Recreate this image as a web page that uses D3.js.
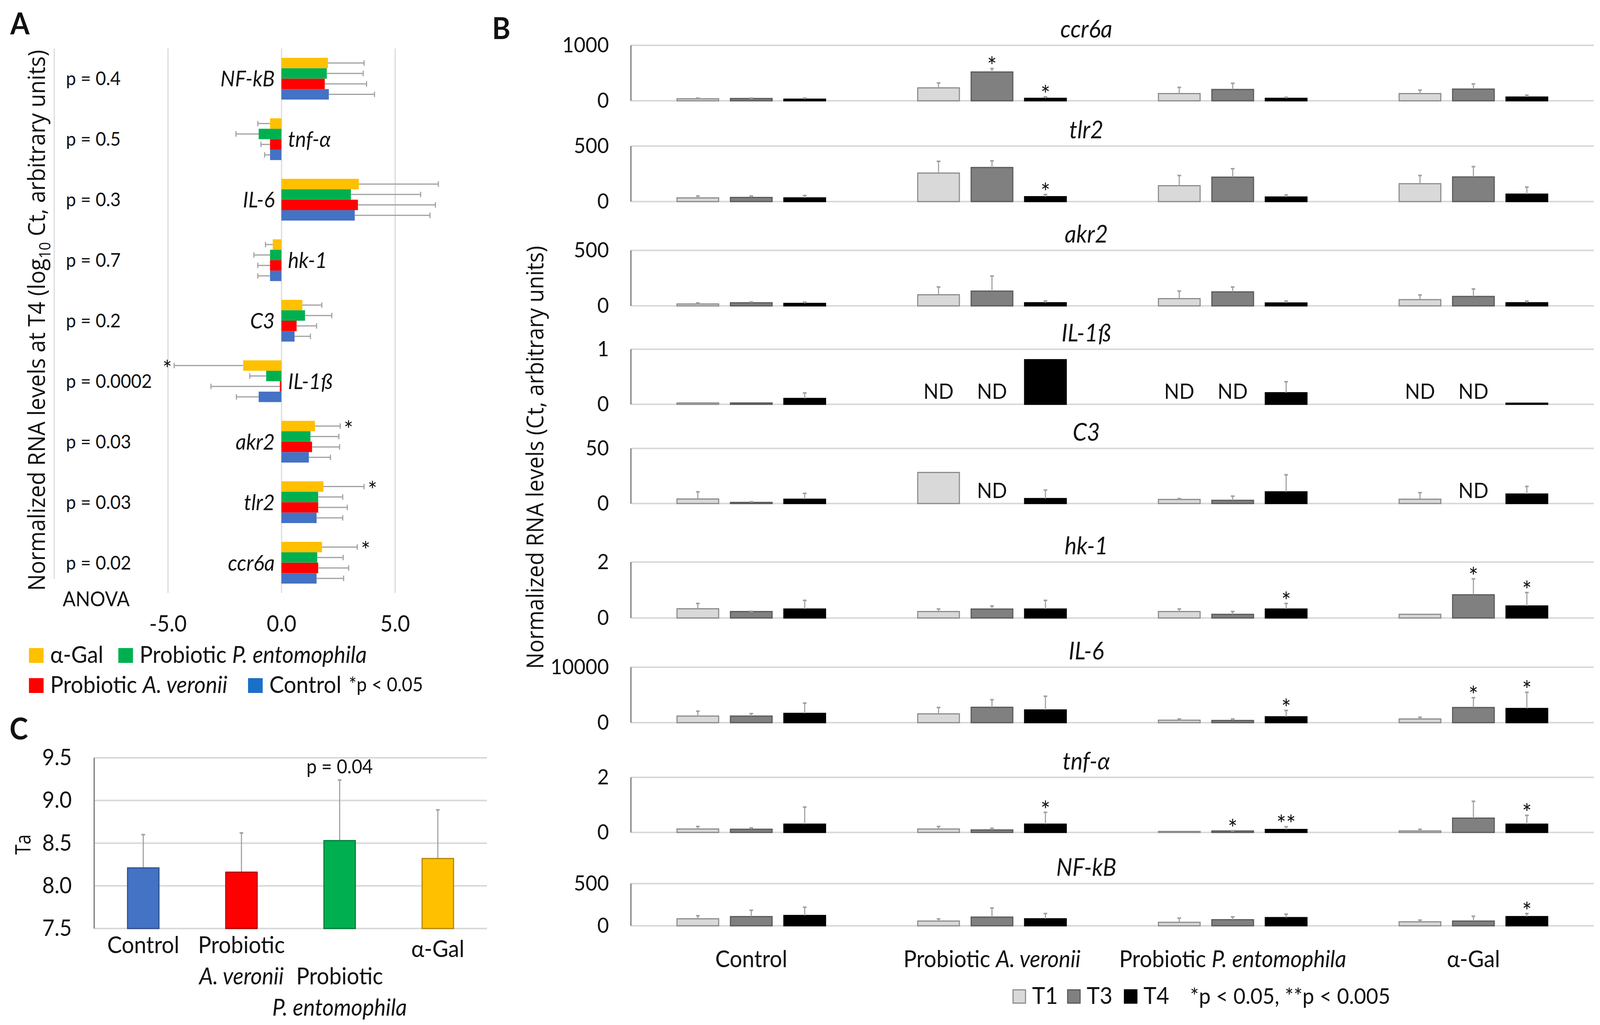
<!DOCTYPE html>
<html>
<head>
<meta charset="utf-8" />
<script src="https://cdn.jsdelivr.net/npm/d3@7"></script>
<style>
  html, body { margin: 0; padding: 0; overflow: hidden; background: #fff; }
  svg { display: block; }
  text { font-family: Lato, "Open Sans", sans-serif; fill: #111; }
  .title { font-family: "Open Sans", sans-serif; }
</style>
</head>
<body>
<script>
// ---------- data : panel A (log10 Ct at T4) ----------
var genesA = ["NF-kB", "tnf-α", "IL-6", "hk-1", "C3", "IL-1ß", "akr2", "tlr2", "ccr6a"];
var pvalsA = ["p = 0.4", "p = 0.5", "p = 0.3", "p = 0.7", "p = 0.2", "p = 0.0002", "p = 0.03", "p = 0.03", "p = 0.02"];
var seriesA = ["α-Gal", "Probiotic P. entomophila", "Probiotic A. veronii", "Control"];
var colorsA = ["#FFC000", "#00B050", "#FF0000", "#4472C4"];
var galA = [2.05, -0.5, 3.41, -0.38, 0.92, -1.68, 1.48, 1.85, 1.79];
var galErrA = [1.59, 0.54, 3.5, 0.32, 0.86, 3.04, 1.11, 1.79, 1.55];
var pentA = [2.0, -1.0, 3.06, -0.5, 1.04, -0.67, 1.28, 1.62, 1.58];
var pentErrA = [1.6, 1.0, 3.07, 0.71, 1.18, 0.72, 1.25, 1.08, 1.14];
var averA = [1.91, -0.5, 3.37, -0.5, 0.67, -0.07, 1.35, 1.62, 1.62];
var averErrA = [1.84, 0.4, 3.41, 0.54, 0.88, 3.03, 1.21, 1.28, 1.34];
var ctrlA = [2.09, -0.5, 3.23, -0.5, 0.58, -1.0, 1.21, 1.55, 1.55];
var ctrlErrA = [2.01, 0.24, 3.31, 0.54, 0.7, 0.98, 0.95, 1.15, 1.19];
var starsA = ["IL-1ß", "akr2", "tlr2", "ccr6a"]; // α-Gal, *p < 0.05
var ticksA = [-5, 0, 5];

// ---------- data : panel B (Ct, by time point) ----------
var groupsB = ["Control", "Probiotic A. veronii", "Probiotic P. entomophila", "α-Gal"];
var timesB = ["T1", "T3", "T4"];
var timeFill = ["#d9d9d9", "#808080", "#000000"];
var timeStroke = ["#8c8c8c", "#595959", "#000000"];
var genesB = ["ccr6a", "tlr2", "akr2", "IL-1ß", "C3", "hk-1", "IL-6", "tnf-α", "NF-kB"];
var yMaxB = [1000, 500, 500, 1, 50, 2, 10000, 2, 500];
// per gene: Control T1,T3,T4 | A. veronii T1,T3,T4 | P. entomophila T1,T3,T4 | α-Gal T1,T3,T4  (null = ND)
var ccr6aB = [36, 41, 29, 233, 519, 44, 130, 204, 44, 130, 211, 67];
var ccr6aErrB = [12, 7, 19, 89, 62, 26, 111, 111, 19, 63, 93, 33];
var tlr2B = [33, 37, 33, 257, 307, 44, 143, 220, 41, 161, 222, 67];
var tlr2ErrB = [17, 13, 21, 106, 60, 19, 92, 76, 18, 74, 93, 63];
var akr2B = [17, 28, 22, 100, 133, 28, 65, 126, 26, 56, 85, 28];
var akr2ErrB = [9, 7, 11, 70, 136, 16, 68, 44, 17, 42, 67, 15];
var il1bB = [0.024, 0.024, 0.106, null, null, 0.81, null, null, 0.21, null, null, 0.02];
var il1bErrB = [0, 0, 0.1, 0, 0, 0, 0, 0, 0.2, 0, 0, 0];
var c3B = [4.1, 1.0, 3.9, 28.2, null, 4.5, 3.7, 2.9, 10.6, 3.9, null, 8.6];
var c3ErrB = [6.5, 0.6, 5.3, 0, 0, 7.7, 0.8, 3.8, 15.5, 5.9, 0, 6.9];
var hk1B = [0.33, 0.23, 0.32, 0.23, 0.32, 0.32, 0.23, 0.13, 0.32, 0.13, 0.83, 0.43];
var hk1ErrB = [0.19, 0.01, 0.31, 0.09, 0.11, 0.31, 0.09, 0.1, 0.2, 0, 0.57, 0.48];
var il6B = [1189, 1189, 1674, 1586, 2775, 2291, 441, 396, 1057, 661, 2731, 2555];
var il6ErrB = [881, 441, 1850, 1145, 1366, 2467, 220, 265, 1146, 308, 1762, 2908];
var tnfB = [0.124, 0.116, 0.3, 0.124, 0.09, 0.3, 0.036, 0.053, 0.107, 0.053, 0.52, 0.3];
var tnfErrB = [0.09, 0.05, 0.62, 0.09, 0.06, 0.43, 0, 0.01, 0.1, 0.06, 0.61, 0.32];
var nfkbB = [83, 109, 122, 56, 103, 83, 41, 72, 97, 47, 56, 109];
var nfkbErrB = [36, 75, 98, 25, 108, 62, 50, 34, 41, 20, 57, 36];
var valuesB = [ccr6aB, tlr2B, akr2B, il1bB, c3B, hk1B, il6B, tnfB, nfkbB];
var errorsB = [ccr6aErrB, tlr2ErrB, akr2ErrB, il1bErrB, c3ErrB, hk1ErrB, il6ErrB, tnfErrB, nfkbErrB];
var starsB = [
  ["", "", "", "", "*", "*", "", "", "", "", "", ""],
  ["", "", "", "", "", "*", "", "", "", "", "", ""],
  ["", "", "", "", "", "", "", "", "", "", "", ""],
  ["", "", "", "", "", "", "", "", "", "", "", ""],
  ["", "", "", "", "", "", "", "", "", "", "", ""],
  ["", "", "", "", "", "", "", "", "*", "", "*", "*"],
  ["", "", "", "", "", "", "", "", "*", "", "*", "*"],
  ["", "", "", "", "", "*", "", "*", "**", "", "", "*"],
  ["", "", "", "", "", "", "", "", "", "", "", "*"]
];

// ---------- data : panel C (Ta) ----------
var groupsC = ["Control", "Probiotic A. veronii", "Probiotic P. entomophila", "α-Gal"];
var valuesC = [8.21, 8.16, 8.53, 8.32];
var errC = [0.39, 0.46, 0.71, 0.57];
var colorsC = ["#4472C4", "#FF0000", "#00B050", "#FFC000"];
var ticksC = [7.5, 8.0, 8.5, 9.0, 9.5];

// ---------- page ----------
var W = 4367, H = 2624;
var grid = "#d9d9d9", errCol = "#a0a0a0";

// the drawing is laid out in a 4367x2624 box and stretched to fill the window
var svg = d3.select("body").append("svg")
  .attr("viewBox", "0 0 " + W + " " + H)
  .attr("preserveAspectRatio", "none")
  .style("width", "100vw").style("height", "100vh")
  .style("background", "#fff");

// italic species names inside labels
function rich(sel, s) {
  s.split(/(A\. veronii|P\. entomophila)/).forEach(function (part) {
    if (!part) return;
    var t = sel.append("tspan").text(part);
    if (/veronii|entomophila/.test(part)) t.style("font-style", "italic");
  });
}

function panelLetter(x, y, s) {
  svg.append("text").attr("x", x).attr("y", y).text(s)
    .style("font-size", "76px").style("font-weight", "bold");
}
panelLetter(28, 88, "A");
panelLetter(1343, 100, "B");
panelLetter(26, 1893, "C");

// ================= panel A =================
var gA = svg.append("g");
var xA = d3.scaleLinear().domain([-10, 10]).range([148, 1388]);
var yA = d3.scaleBand().domain(genesA).range([124, 1518]).paddingInner(0.31).paddingOuter(0.155);
var ySubA = d3.scaleBand().domain(seriesA).range([0, yA.bandwidth()]);

gA.append("line").attr("x1", xA(-10)).attr("x2", xA(-10)).attr("y1", 124).attr("y2", 1482)
  .attr("stroke", grid).attr("stroke-width", 3);

var axA = gA.append("g").attr("transform", "translate(0,1518)")
  .call(d3.axisBottom(xA).tickValues(ticksA).tickSize(-(1518 - 124)).tickPadding(58)
    .tickFormat(function (d) { return d.toFixed(1); }));
axA.select(".domain").remove();
axA.selectAll(".tick line").attr("stroke", grid).attr("stroke-width", 3);
axA.selectAll(".tick text").style("font-size", "58px").style("font-family", "Lato").attr("fill", "#111");

var meansA = [galA, pentA, averA, ctrlA];
var errsA = [galErrA, pentErrA, averErrA, ctrlErrA];
seriesA.forEach(function (s, si) {
  genesA.forEach(function (g, gi) {
    var v = meansA[si][gi], e = errsA[si][gi];
    var y0 = yA(g) + ySubA(s), h = ySubA.bandwidth();
    gA.append("rect")
      .attr("x", xA(Math.min(0, v))).attr("y", y0)
      .attr("width", Math.abs(xA(v) - xA(0))).attr("height", h)
      .attr("fill", colorsA[si]);
    var end = v + (v < 0 ? -e : e);
    gA.append("line").attr("x1", xA(v)).attr("x2", xA(end))
      .attr("y1", y0 + h / 2).attr("y2", y0 + h / 2)
      .attr("stroke", errCol).attr("stroke-width", 3);
    gA.append("line").attr("x1", xA(end)).attr("x2", xA(end))
      .attr("y1", y0 + h / 2 - 7).attr("y2", y0 + h / 2 + 7)
      .attr("stroke", errCol).attr("stroke-width", 3);
    if (si === 0 && starsA.indexOf(g) >= 0) {
      gA.append("text").text("*")
        .attr("x", xA(end) + (v < 0 ? -6 : 10)).attr("y", y0 + h / 2 + 30)
        .attr("text-anchor", v < 0 ? "end" : "start")
        .style("font-size", "60px");
    }
  });
});

genesA.forEach(function (g, gi) {
  var neg = ctrlA[gi] + galA[gi] < 0;
  gA.append("text").text(g)
    .attr("x", neg ? xA(0) + 18 : xA(0) - 18)
    .attr("y", yA(g) + yA.bandwidth() / 2 + 20)
    .attr("text-anchor", neg ? "start" : "end")
    .style("font-size", "56px").style("font-style", "italic");
  gA.append("text").text(pvalsA[gi])
    .attr("x", 180).attr("y", yA(g) + yA.bandwidth() / 2 + 17)
    .style("font-size", "49px");
});
gA.append("text").text("ANOVA").attr("x", 171).attr("y", 1552).style("font-size", "52px");

// condensed axis title, as in the original
var tA = gA.append("text").attr("class", "title")
  .attr("transform", "translate(123,820) rotate(-90)")
  .attr("text-anchor", "middle").style("font-size", "64px")
  .attr("textLength", 1385).attr("lengthAdjust", "spacingAndGlyphs");
tA.append("tspan").text("Normalized RNA levels at T4 (log");
tA.append("tspan").text("10").attr("dy", 14).style("font-size", "42px");
tA.append("tspan").text(" Ct, arbitrary units)").attr("dy", -14);

// legend A
var legA = [
  { i: 0, x: 79, y: 1659 }, { i: 1, x: 323, y: 1659 },
  { i: 2, x: 79, y: 1736 }, { i: 3, x: 677, y: 1736 }
];
legA.forEach(function (d) {
  gA.append("rect").attr("x", d.x).attr("y", d.y).attr("width", 40).attr("height", 38)
    .attr("fill", d.i === 3 ? "#1a70c8" : colorsA[d.i]);
  var t = gA.append("text").attr("x", d.x + 58).attr("y", d.y + 38).style("font-size", "60px");
  rich(t, seriesA[d.i]);
});
gA.append("text").text("*p < 0.05").attr("x", 952).attr("y", 1770).style("font-size", "50px");

// ================= panel B =================
var gB = svg.append("g");
var rowTopB = [116, 374, 641, 894, 1148, 1439, 1708, 1990, 2262];
var rowBaseB = [258, 516, 783, 1035, 1289, 1582, 1850, 2131, 2370];
var xB = d3.scaleBand().domain(groupsB).range([1722, 4350]).paddingInner(0.334).paddingOuter(0.167);
var xSubB = d3.scaleBand().domain(timesB).range([0, xB.bandwidth()]).paddingInner(0.22).paddingOuter(0.11);

genesB.forEach(function (gene, r) {
  var y = d3.scaleLinear().domain([0, yMaxB[r]]).range([rowBaseB[r], rowTopB[r]]);
  var row = gB.append("g");
  [yMaxB[r], 0].forEach(function (v) {
    row.append("line").attr("x1", 1722).attr("x2", 4350).attr("y1", y(v)).attr("y2", y(v))
      .attr("stroke", grid).attr("stroke-width", 4);
  });
  row.append("line").attr("x1", 1722).attr("x2", 1722).attr("y1", y(yMaxB[r])).attr("y2", y(0))
    .attr("stroke", "#6e6e6e").attr("stroke-width", 3);
  var ax = row.append("g").attr("transform", "translate(1722,0)")
    .call(d3.axisLeft(y).tickValues([0, yMaxB[r]]).tickSize(0).tickPadding(60).tickFormat(d3.format("d")));
  ax.select(".domain").remove();
  ax.selectAll(".tick text").style("font-size", "55px").style("font-family", "Lato").attr("fill", "#111");

  row.append("text").text(gene)
    .attr("x", 2965).attr("y", rowTopB[r] - 20).attr("text-anchor", "middle")
    .style("font-size", "62px").style("font-style", "italic");

  groupsB.forEach(function (g, gi) {
    timesB.forEach(function (t, ti) {
      var k = gi * 3 + ti, v = valuesB[r][k], e = errorsB[r][k];
      var bx = xB(g) + xSubB(t), bw = xSubB.bandwidth(), cx = bx + bw / 2;
      if (v === null) {
        row.append("text").text("ND").attr("x", cx).attr("y", y(0) - 14)
          .attr("text-anchor", "middle").style("font-size", "54px");
        return;
      }
      row.append("rect").attr("x", bx).attr("y", y(v)).attr("width", bw).attr("height", y(0) - y(v))
        .attr("fill", timeFill[ti]).attr("stroke", timeStroke[ti]).attr("stroke-width", 3);
      if (e > 0) {
        row.append("line").attr("x1", cx).attr("x2", cx).attr("y1", y(v)).attr("y2", y(v + e))
          .attr("stroke", errCol).attr("stroke-width", 3);
        row.append("line").attr("x1", cx - 5).attr("x2", cx + 5).attr("y1", y(v + e)).attr("y2", y(v + e))
          .attr("stroke", errCol).attr("stroke-width", 4);
      }
      if (starsB[r][k]) {
        row.append("text").text(starsB[r][k]).attr("x", cx).attr("y", y(v + e) + 16)
          .attr("text-anchor", "middle").style("font-size", "62px");
      }
    });
  });
});

groupsB.forEach(function (g) {
  var t = gB.append("text").attr("x", xB(g) + xB.bandwidth() / 2).attr("y", 2476)
    .attr("text-anchor", "middle").style("font-size", "60px");
  rich(t, g);
});

gB.append("text").attr("class", "title")
  .attr("transform", "translate(1483,1171) rotate(-90)")
  .attr("text-anchor", "middle").style("font-size", "64px")
  .attr("textLength", 1083).attr("lengthAdjust", "spacingAndGlyphs")
  .text("Normalized RNA levels (Ct, arbitrary units)");

// legend B
var legBx = [2765, 2914, 3069];
timesB.forEach(function (t, i) {
  gB.append("rect").attr("x", legBx[i]).attr("y", 2534).attr("width", 34).attr("height", 34)
    .attr("fill", timeFill[i]).attr("stroke", timeStroke[i]).attr("stroke-width", 3);
  gB.append("text").text(t).attr("x", legBx[i] + 52).attr("y", 2570).style("font-size", "60px");
});
gB.append("text").text("*p < 0.05, **p < 0.005").attr("x", 3248).attr("y", 2570).style("font-size", "57px");

// ================= panel C =================
var gC = svg.append("g");
var xC = d3.scaleBand().domain(groupsC).range([257, 1329]).paddingInner(0.68).paddingOuter(0.34);
var yC = d3.scaleLinear().domain([7.5, 9.5]).range([2377, 1940]);

ticksC.forEach(function (v) {
  gC.append("line").attr("x1", 257).attr("x2", 1329).attr("y1", yC(v)).attr("y2", yC(v))
    .attr("stroke", grid).attr("stroke-width", 4);
});
gC.append("line").attr("x1", 257).attr("x2", 257).attr("y1", yC(9.5)).attr("y2", yC(7.5))
  .attr("stroke", "#6e6e6e").attr("stroke-width", 3);
var axC = gC.append("g").attr("transform", "translate(257,0)")
  .call(d3.axisLeft(yC).tickValues(ticksC).tickSize(0).tickPadding(61).tickFormat(d3.format(".1f")));
axC.select(".domain").remove();
axC.selectAll(".tick text").style("font-size", "58px").style("font-family", "Lato").attr("fill", "#111");

groupsC.forEach(function (g, i) {
  var v = valuesC[i], e = errC[i], cx = xC(g) + xC.bandwidth() / 2;
  gC.append("line").attr("x1", cx).attr("x2", cx).attr("y1", yC(v)).attr("y2", yC(v + e))
    .attr("stroke", errCol).attr("stroke-width", 3);
  gC.append("line").attr("x1", cx - 5).attr("x2", cx + 5).attr("y1", yC(v + e)).attr("y2", yC(v + e))
    .attr("stroke", errCol).attr("stroke-width", 4);
  gC.append("rect").attr("x", xC(g)).attr("y", yC(v)).attr("width", xC.bandwidth())
    .attr("height", yC(7.5) - yC(v))
    .attr("fill", colorsC[i]).attr("stroke", d3.color(colorsC[i]).darker(1)).attr("stroke-width", 3);
});
gC.append("text").text("p = 0.04").attr("x", xC(groupsC[2]) + xC.bandwidth() / 2).attr("y", 1980)
  .attr("text-anchor", "middle").style("font-size", "50px");

// category labels, staggered like the original
var labLines = [["Control"], ["Probiotic", "A. veronii"], ["", "Probiotic", "P. entomophila"], ["α-Gal"]];
groupsC.forEach(function (g, i) {
  labLines[i].forEach(function (s, li) {
    if (!s) return;
    var t = gC.append("text").attr("x", xC(g) + xC.bandwidth() / 2)
      .attr("y", 2440 + li * 80 + (i === 3 ? 10 : 0))
      .attr("text-anchor", "middle").style("font-size", "60px");
    rich(t, s);
  });
});

gC.append("text").attr("class", "title")
  .attr("transform", "translate(83,2162) rotate(-90)")
  .attr("text-anchor", "middle").style("font-size", "58px")
  .attr("textLength", 52).attr("lengthAdjust", "spacingAndGlyphs").text("Ta");
</script>
</body>
</html>
